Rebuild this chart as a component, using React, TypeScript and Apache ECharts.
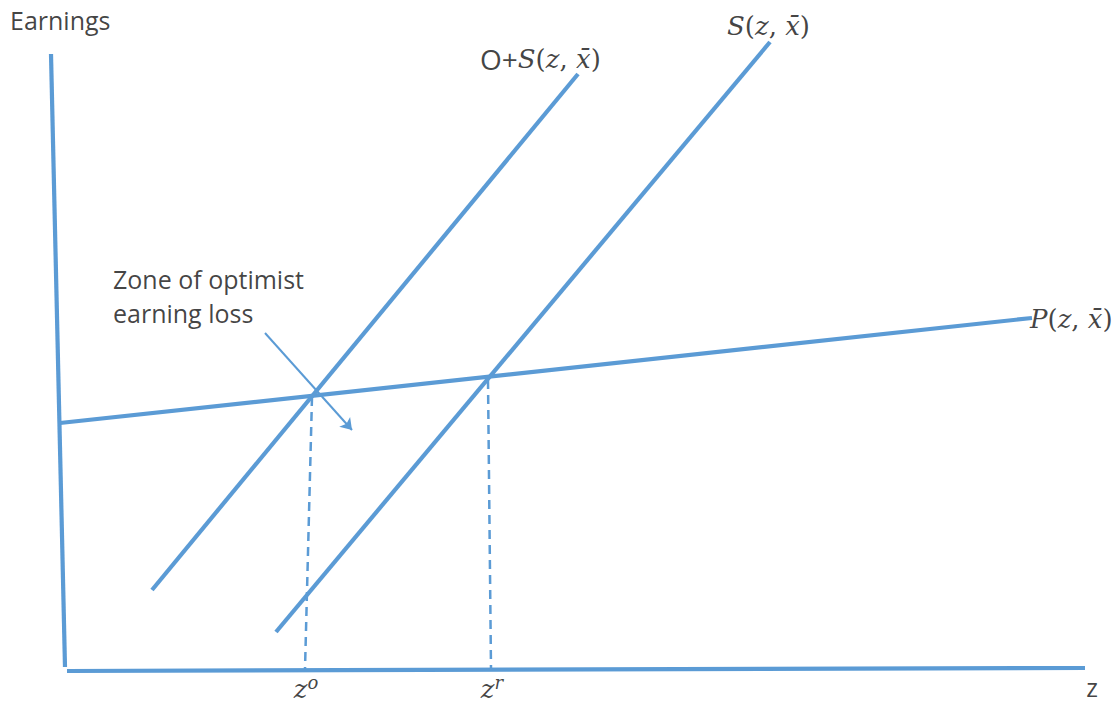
import React, { useEffect, useRef } from "react";
import * as echarts from "echarts";

// Hand-drawn diagram geometry, in diagram units (1 unit ≈ 10 px)
const yAxisLine: number[][] = [[-1.5, 61.5], [-0.1, 0.2]];
const xAxisLine: number[][] = [[0.1, -0.2], [101.9, 0.1]];
const pCurve: number[][] = [[-0.6, 24.6], [96.6, 35.1]];
const osCurve: number[][] = [[8.6, 7.9], [51.2, 59.5]];
const sCurve: number[][] = [[21.0, 3.7], [70.4, 62.7]];
const zoDrop: number[][] = [[24.6, 27.2], [23.9, 0]];
const zrDrop: number[][] = [[42.2, 28.9], [42.5, 0]];
const arrowPath: number[][] = [[19.9, 33.6], [28.6, 23.9]];

const yAxisTitle = "Earnings";
const xAxisTitle = "z";
const zoneNote = ["Zone of optimist", "earning loss"];

const BLUE = "#5B9BD5";
const INK = "#111111";
const SANS = "'Open Sans', 'DejaVu Sans', sans-serif";
const SERIF = "'DejaVu Serif', 'Liberation Serif', serif";
const XBAR = "x\u0304";

const rich = {
  s: { fontFamily: SANS, fontSize: 25, color: INK },
  o: { fontFamily: SANS, fontSize: 28, color: INK, lineHeight: 32 },
  m: { fontFamily: SERIF, fontStyle: "italic", fontSize: 26, color: INK, lineHeight: 32 },
  p: { fontFamily: SERIF, fontSize: 26, color: INK, lineHeight: 32 },
  sup: { fontFamily: SERIF, fontStyle: "italic", fontSize: 18, color: INK, verticalAlign: "top" },
};

const fn = (name: string) => `{m|${name}}{p|(}{m|z}{p|, }{m|${XBAR}}{p|)}`;

function seg(name: string, pts: number[][], width: number, dashed = false) {
  return {
    name,
    type: "line",
    data: pts,
    showSymbol: false,
    symbol: "none",
    silent: true,
    clip: false,
    lineStyle: {
      color: BLUE,
      width,
      type: dashed ? [9, 6] : "solid",
      cap: "butt",
    },
    z: 2,
  };
}

function lab(value: number[], text: string, align: string, offset: number[], extra: any = {}) {
  return {
    value,
    label: {
      show: true,
      position: "inside",
      formatter: text,
      align,
      verticalAlign: "middle",
      offset,
      rich,
      ...extra,
    },
  };
}

export default function App() {
  const ref = useRef<HTMLDivElement>(null);

  useEffect(() => {
    document.body.style.margin = "0";
    const chart = echarts.init(ref.current!, null, { renderer: "svg" });
    chart.setOption({
      animation: false,
      backgroundColor: "#ffffff",
      grid: { left: 0, right: 0, top: 0, bottom: 0 },
      xAxis: { type: "value", min: -6.6, max: 105.4, show: false },
      yAxis: { type: "value", min: -3.5, max: 66.9, show: false },
      series: [
        seg("y-axis", yAxisLine, 4.2),
        seg("x-axis", xAxisLine, 4.2),
        seg("P", pCurve, 4.2),
        seg("O+S", osCurve, 4.2),
        seg("S", sCurve, 4.2),
        seg("zo", zoDrop, 2.5, true),
        seg("zr", zrDrop, 2.5, true),
        {
          name: "arrow",
          type: "lines",
          coordinateSystem: "cartesian2d",
          silent: true,
          symbol: ["none", "arrow"],
          symbolSize: 11,
          lineStyle: { color: BLUE, width: 2, opacity: 1 },
          data: [{ coords: arrowPath }],
          z: 3,
        },
        {
          name: "labels",
          type: "scatter",
          silent: true,
          clip: false,
          symbolSize: 1,
          itemStyle: { color: "rgba(0,0,0,0)" },
          z: 4,
          data: [
            lab(yAxisLine[0], `{s|${yAxisTitle}}`, "left", [-41, -34]),
            lab(xAxisLine[1], `{s|${xAxisTitle}}`, "center", [7, 19], {
              rich: { s: { fontFamily: SANS, fontSize: 25, color: INK, lineHeight: 22 } },
            }),
            lab(osCurve[1], `{o|O+}${fn("S")}`, "left", [-98, -15]),
            lab(sCurve[1], fn("S"), "left", [-43, -16]),
            lab(pCurve[1], fn("P"), "left", [-2, 1]),
            lab(zoDrop[1], "{m|z}{sup|o}", "center", [1, 20]),
            lab(zrDrop[1], "{m|z}{sup|r}", "center", [1, 20]),
            lab(arrowPath[0], zoneNote.map((t) => `{s|${t}}`).join("\n"), "left", [-152, -37], {
              lineHeight: 34,
            }),
          ],
        },
      ],
    });
    return () => chart.dispose();
  }, []);

  return (
    <div
      ref={ref}
      style={{ position: "fixed", left: 0, top: 0, width: 1120, height: 704, background: "#fff" }}
    />
  );
}
